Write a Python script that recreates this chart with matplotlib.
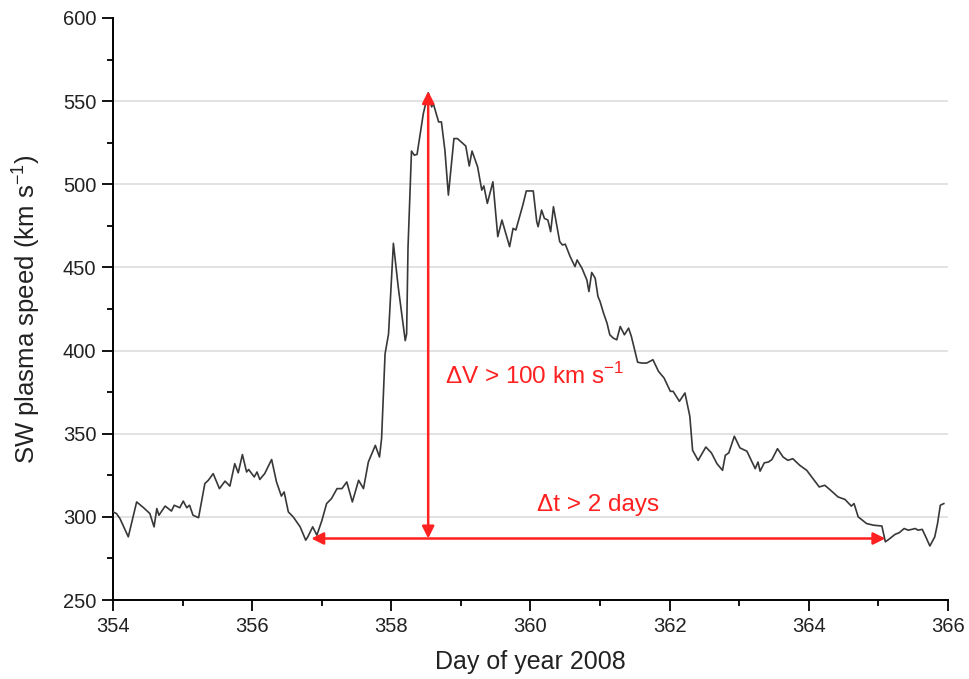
import matplotlib.pyplot as plt
from matplotlib.ticker import MultipleLocator

plt.rcParams['font.family'] = ['Liberation Sans', 'DejaVu Sans']
plt.rcParams['mathtext.fontset'] = 'custom'
plt.rcParams['mathtext.rm'] = 'Liberation Sans'

# solar wind speed
day = [354.00, 354.05, 354.10, 354.22, 354.34, 354.44, 354.53, 354.59, 354.63, 354.66,
       354.75, 354.84, 354.88, 354.96, 355.01, 355.06, 355.10, 355.15, 355.23, 355.32,
       355.37, 355.44, 355.53, 355.61, 355.68, 355.75, 355.80, 355.86, 355.92, 355.95,
       356.03, 356.07, 356.11, 356.18, 356.28, 356.35, 356.42, 356.46, 356.52, 356.59,
       356.69, 356.77, 356.80, 356.87, 356.93, 357.00, 357.07, 357.14, 357.22, 357.29,
       357.36, 357.44, 357.53, 357.60, 357.67, 357.77, 357.83, 357.86, 357.91, 357.96,
       358.03, 358.10, 358.20, 358.22, 358.24, 358.29, 358.33, 358.37, 358.46, 358.53,
       358.58, 358.60, 358.68, 358.72, 358.77, 358.82, 358.90, 358.95, 359.03, 359.07,
       359.12, 359.16, 359.24, 359.30, 359.33, 359.38, 359.46, 359.53, 359.59, 359.70,
       359.75, 359.79, 359.89, 359.94, 360.04, 360.09, 360.11, 360.16, 360.20, 360.25,
       360.29, 360.33, 360.42, 360.46, 360.50, 360.57, 360.64, 360.67, 360.74, 360.81,
       360.84, 360.88, 360.93, 360.97, 361.00, 361.05, 361.10, 361.14, 361.19, 361.24,
       361.29, 361.35, 361.41, 361.45, 361.54, 361.60, 361.67, 361.76, 361.84, 361.92,
       362.01, 362.05, 362.14, 362.22, 362.29, 362.33, 362.41, 362.52, 362.60, 362.68,
       362.76, 362.80, 362.85, 362.93, 363.01, 363.11, 363.23, 363.27, 363.30, 363.36,
       363.42, 363.47, 363.55, 363.63, 363.70, 363.77, 363.87, 363.97, 364.06, 364.15,
       364.23, 364.30, 364.42, 364.52, 364.61, 364.65, 364.71, 364.83, 364.93, 365.05,
       365.10, 365.15, 365.24, 365.30, 365.37, 365.43, 365.53, 365.57, 365.63, 365.67,
       365.74, 365.81, 365.85, 365.89, 365.94]
speed = [303, 302, 299, 288, 309, 305.5, 302, 294, 305, 301,
         306.5, 303.5, 307, 305.5, 309.5, 305.5, 307, 301, 299.5, 320,
         322, 326, 317, 321.5, 318.5, 332, 326.5, 337.5, 327, 328.5,
         324, 327, 322.5, 326, 334.5, 321, 312.5, 315, 303, 300,
         294, 286, 288, 294, 289, 297.5, 308, 311, 317, 317,
         321, 309, 322, 317, 333, 343, 336, 347, 398, 410,
         464.5, 438, 406, 410, 462, 520, 517.5, 518, 542.5, 555,
         546.5, 549, 537.5, 537.5, 520.5, 493.5, 527.5, 527.5, 524.5, 523,
         511, 520, 510.5, 496.5, 499, 488.5, 501.5, 468.5, 478.5, 462.5,
         473.5, 472.5, 487.5, 496, 496, 477.5, 474.5, 484.5, 479.5, 478.5,
         471.5, 486.5, 465.5, 463.5, 464, 456.5, 450.5, 454.5, 449.5, 442.5,
         435.5, 447, 443.5, 432.5, 429.5, 422.5, 416.5, 409.5, 407.5, 406.5,
         414.5, 409.5, 413.5, 408.5, 393, 392.5, 392.5, 394.5, 387.5, 383.5,
         375.5, 375.5, 369.5, 374.5, 360.5, 340, 334, 342, 338.5, 332,
         328, 337, 338.5, 348.5, 341.5, 339.5, 329, 333, 327.5, 332.5,
         333, 334.5, 341, 336, 334, 335, 331, 328, 323, 318,
         319, 316.5, 312, 310.5, 306.5, 308, 300, 296, 295, 294.5,
         285, 286.5, 289.5, 290.5, 293, 292, 293, 292, 292.5, 289,
         282.5, 288, 296, 307, 308]

# arrows
dv_day = 358.53
dv_low, dv_high = 287, 556
dt_start, dt_end = 356.85, 365.1

fig = plt.figure(figsize=(9.69, 6.79), dpi=100)
ax = fig.add_axes([0.1166, 0.1163, 0.8617, 0.8572])

ax.plot(day, speed, color='#383838', lw=1.2, zorder=3)

ax.set_xlim(354, 366)
ax.set_ylim(250, 600)
ax.xaxis.set_major_locator(MultipleLocator(2))
ax.xaxis.set_minor_locator(MultipleLocator(1))
ax.yaxis.set_major_locator(MultipleLocator(50))
ax.yaxis.set_minor_locator(MultipleLocator(25))

for v in range(300, 600, 50):
    ax.axhline(v, color='#dddddd', lw=1.2, zorder=1)

for s in ['top', 'right']:
    ax.spines[s].set_visible(False)
for s in ['left', 'bottom']:
    ax.spines[s].set_linewidth(1.4)

ax.tick_params(which='major', direction='out', length=8, width=1.3, labelsize=14.5, pad=4,
               labelcolor='#222222')
ax.tick_params(which='minor', direction='out', length=4, width=1.3)

ax.set_xlabel('Day of year 2008', fontsize=18, labelpad=10, color='#222222')
ax.set_ylabel('SW plasma speed (km s$^{\\mathregular{-1}}$)', fontsize=18.5, labelpad=15,
              color='#222222')

arrow_style = dict(arrowstyle='<|-|>', color='#ff2020', lw=1.8,
                   mutation_scale=18, shrinkA=0, shrinkB=0)
ax.annotate('', xy=(dv_day, dv_high), xytext=(dv_day, dv_low), arrowprops=arrow_style, zorder=4)
ax.annotate('', xy=(dt_end, dv_low), xytext=(dt_start, dv_low), arrowprops=arrow_style, zorder=4)

ax.text(358.77, 385, '\u0394V > 100 km s$^{\\mathregular{-1}}$', color='#ff2020', fontsize=17.5,
        va='center', ha='left')
ax.text(360.97, 307, '\u0394t > 2 days', color='#ff2020', fontsize=17.5,
        va='center', ha='center')

fig.savefig('out.png', dpi=100)
